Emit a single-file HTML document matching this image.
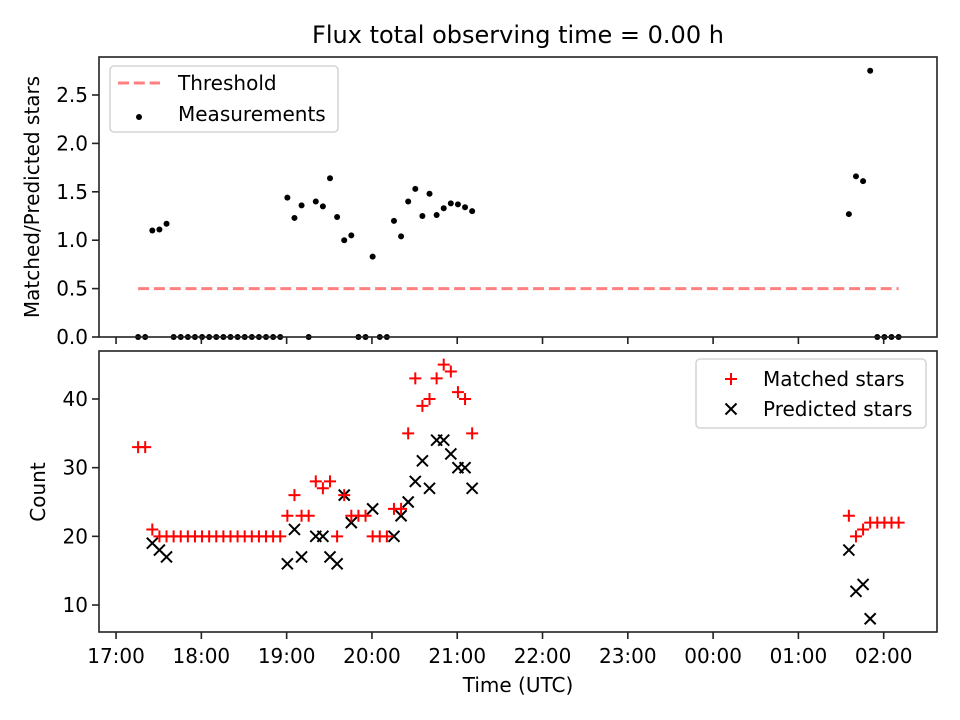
<!DOCTYPE html>
<html><head><meta charset="utf-8"><style>
html,body{margin:0;padding:0;background:#fff;}
svg{display:block;font-family:"DejaVu Sans","Liberation Sans",sans-serif;}
</style></head><body>
<svg id="chart" width="960" height="720" viewBox="0 0 960 720" xmlns="http://www.w3.org/2000/svg">
<rect width="960" height="720" fill="#fff"/>
<text x="518" y="43" font-size="24" text-anchor="middle">Flux total observing time = 0.00 h</text>
<g id="topPanel"></g>
<g id="botPanel"></g>
<text x="518" y="692" font-size="20" text-anchor="middle">Time (UTC)</text>
<text transform="translate(39,197) rotate(-90)" font-size="20" text-anchor="middle">Matched/Predicted stars</text>
<text transform="translate(45,492) rotate(-90)" font-size="20" text-anchor="middle">Count</text>
</svg>
<script>
// minutes after 17:00 UTC
const times = [15.5,20.5,25.5,30.5,35.5,40.5,45.5,50.5,55.5,60.5,65.5,70.5,75.5,80.5,85.5,90.5,95.5,100.5,105.5,110.5,115.5,120.5,125.5,130.5,135.5,140.5,145.5,150.5,155.5,160.5,165.5,170.5,175.5,180.5,185.5,190.5,195.5,200.5,205.5,210.5,215.5,220.5,225.5,230.5,235.5,240.5,245.5,250.5,515.5,520.5,525.5,530.5,535.5,540.5,545.5,550.5];
const ratios = [0,0,1.10,1.11,1.17,0,0,0,0,0,0,0,0,0,0,0,0,0,0,0,0,1.44,1.23,1.36,0,1.40,1.35,1.64,1.24,1.00,1.05,0,0,0.83,0,0,1.20,1.04,1.40,1.53,1.25,1.48,1.26,1.33,1.38,1.37,1.34,1.30,1.27,1.66,1.61,2.75,0,0,0,0];
const matched = [33,33,21,20,20,20,20,20,20,20,20,20,20,20,20,20,20,20,20,20,20,23,26,23,23,28,27,28,20,26,23,23,23,20,20,20,24,24,35,43,39,40,43,45,44,41,40,35,23,20,21,22,22,22,22,22];
const predicted = [null,null,19,18,17,null,null,null,null,null,null,null,null,null,null,null,null,null,null,null,null,16,21,17,null,20,20,17,16,26,22,null,null,24,null,null,20,23,25,28,31,27,34,34,32,30,30,27,18,12,13,8,null,null,null,null];
const threshold = 0.5;
const xTickLabels = ["17:00","18:00","19:00","20:00","21:00","22:00","23:00","00:00","01:00","02:00"];
const topYTicks = [0.0,0.5,1.0,1.5,2.0,2.5];
const botYTicks = [10,20,30,40];

const NS="http://www.w3.org/2000/svg";
const L=99,R=937;
const xMin=-12, xMax=577.5;
function X(t){return L+(t-xMin)/(xMax-xMin)*(R-L);}
const tT=57,tB=337, tMin=0,tMax=2.8926;
function YT(v){return tB-(v-tMin)/(tMax-tMin)*(tB-tT);}
const bT=351,bB=632,bMin=6.07,bMax=46.99;
function YB(v){return bB-(v-bMin)/(bMax-bMin)*(bB-bT);}
function el(tag,attrs,parent){const e=document.createElementNS(NS,tag);for(const k in attrs)e.setAttribute(k,attrs[k]);parent.appendChild(e);return e;}
const topG=document.getElementById('topPanel'), botG=document.getElementById('botPanel');

// threshold
let tl=el('line',{x1:X(times[0]),x2:X(times[times.length-1]),y1:YT(threshold),y2:YT(threshold),stroke:'#ff8080','stroke-width':3,'stroke-dasharray':'11,4.8'},topG);


// measurements
times.forEach((t,i)=>{
  const c=el('circle',{cx:X(t),cy:YT(ratios[i]),r:3,fill:'#000'},topG);
  
  
});
// counts
times.forEach((t,i)=>{
  if(predicted[i]!==null){
    const x=X(t),y=YB(predicted[i]),s=5.5;
    const p=el('path',{d:`M${x-s},${y-s}L${x+s},${y+s}M${x-s},${y+s}L${x+s},${y-s}`,stroke:'#000','stroke-width':2,fill:'none'},botG);
    
    
  }
});
times.forEach((t,i)=>{
  const x=X(t),y=YB(matched[i]),s=6;
  const p=el('path',{d:`M${x-s},${y}L${x+s},${y}M${x},${y-s}L${x},${y+s}`,stroke:'#ff0000','stroke-width':2,fill:'none'},botG);
  
  
});

// axes frames
[[topG,tT,tB],[botG,bT,bB]].forEach(([g,a,b])=>{
  const f=el('rect',{x:L,y:a,width:R-L,height:b-a,fill:'none',stroke:'#222','stroke-width':1.6},g);
  
  
});
// x ticks
xTickLabels.forEach((lab,i)=>{
  const x=X(i*60);
  const t1=el('line',{x1:x,x2:x,y1:tB,y2:tB+7,stroke:'#222','stroke-width':1.6},topG);
  
  
  const t2=el('line',{x1:x,x2:x,y1:bB,y2:bB+7,stroke:'#222','stroke-width':1.6},botG);
  
  
  const tx=el('text',{x:x,y:663,'font-size':20,'text-anchor':'middle'},botG);
  tx.textContent=lab;
  
  
});
topYTicks.forEach(v=>{
  const y=YT(v);
  const t=el('line',{x1:L-7,x2:L,y1:y,y2:y,stroke:'#222','stroke-width':1.6},topG);
  
  
  const tx=el('text',{x:L-11,y:y+7,'font-size':20,'text-anchor':'end'},topG);
  tx.textContent=v.toFixed(1);
  
  
});
botYTicks.forEach(v=>{
  const y=YB(v);
  const t=el('line',{x1:L-7,x2:L,y1:y,y2:y,stroke:'#222','stroke-width':1.6},botG);
  
  
  const tx=el('text',{x:L-11,y:y+7,'font-size':20,'text-anchor':'end'},botG);
  tx.textContent=String(v);
  
  
});

// legends
let lg=el('g',{},topG);


el('rect',{x:110,y:66,width:228,height:66,rx:4,fill:'#fff','fill-opacity':0.8,stroke:'#d6d6d6','stroke-width':1.6},lg);
el('line',{x1:118,x2:160,y1:83,y2:83,stroke:'#ff8080','stroke-width':3,'stroke-dasharray':'11,4.8'},lg);
let lt=el('text',{x:178,y:90,'font-size':20},lg); lt.textContent='Threshold';
el('circle',{cx:139,cy:117,r:3,fill:'#000'},lg);
lt=el('text',{x:178,y:121,'font-size':20},lg); lt.textContent='Measurements';

let lg2=el('g',{},botG);


el('rect',{x:696,y:359,width:230,height:69,rx:4,fill:'#fff','fill-opacity':0.8,stroke:'#d6d6d6','stroke-width':1.6},lg2);
el('path',{d:'M725,379L737,379M731,373L731,385',stroke:'#ff0000','stroke-width':2},lg2);
lt=el('text',{x:763,y:386,'font-size':20},lg2); lt.textContent='Matched stars';
el('path',{d:'M725.5,403.5L736.5,414.5M725.5,414.5L736.5,403.5',stroke:'#000','stroke-width':2},lg2);
lt=el('text',{x:763,y:416,'font-size':20},lg2); lt.textContent='Predicted stars';
</script>
</body></html>
